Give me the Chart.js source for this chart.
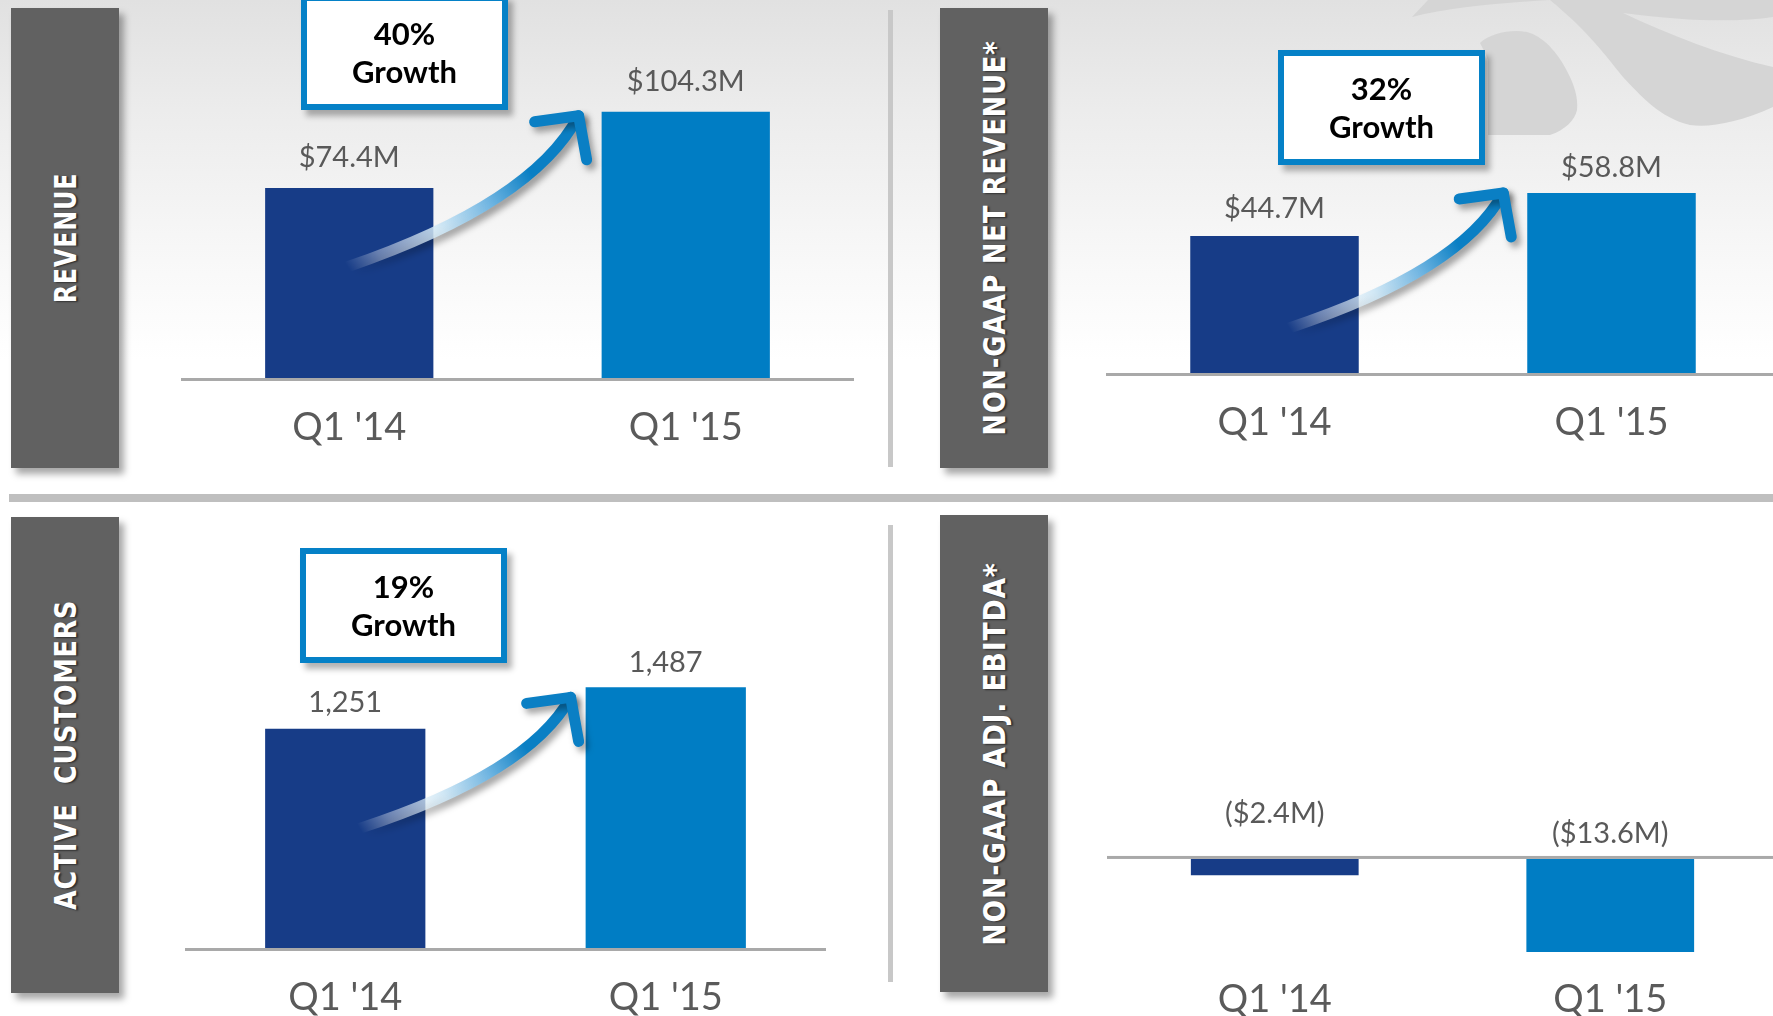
<!DOCTYPE html>
<html>
<head>
<meta charset="utf-8">
<script src="https://cdn.jsdelivr.net/npm/chart.js@4.4.0/dist/chart.umd.min.js"></script>
<style>
html, body { margin: 0; padding: 0; }
body { width: 1773px; height: 1016px; overflow: hidden; position: relative; background: #fff; font-family: Lato, sans-serif; }
#topbg { position: absolute; left: 0; top: 0; width: 1773px; height: 494px;
  background: linear-gradient(#e1e1e1 0px, #ececec 110px, #f8f8f8 260px, #ffffff 360px); }
#mark { position: absolute; left: 0; top: 0; }
.side { position: absolute; background: #616161; box-shadow: 5px 6px 7px rgba(0,0,0,0.35); overflow: hidden; }
.side span { position: absolute; left: 50%; top: 50%; white-space: nowrap; color: #fff;
  font: bold 31px "DejaVu Sans", sans-serif; letter-spacing: 1px;
  text-shadow: -1px 2px 2px rgba(0,0,0,0.55); }
.vdiv { position: absolute; width: 5px; background: #c8c8c8; }
#hdiv { position: absolute; left: 9px; top: 494px; width: 1764px; height: 8px; background: #bfbfbf; }
.growth { position: absolute; box-sizing: border-box; width: 207px; height: 115px; border: 6px solid #0581c7;
  background: #fff; box-shadow: 5px 6px 6px rgba(0,0,0,0.3); text-align: center;
  font: bold 31px Lato, sans-serif; color: #000; line-height: 38px; padding-top: 13px; }
canvas { position: absolute; }
</style>
</head>
<body>
<div id="topbg"></div>
<svg id="mark" width="1773" height="200">
  <g fill="#d5d5d5">
    <path d="M1412,17 L1428,0 L1550,0 C1500,3 1450,7 1412,17 Z"/>
    <path d="M1480,43 C1490,33 1515,28 1530,33 C1545,38 1560,55 1570,77 C1576,90 1578,100 1577,110 C1575,120 1565,130 1550,135 L1488,135 L1488,60 C1485,52 1482,47 1480,43 Z"/>
    <path d="M1545,0 L1773,0 L1773,17 C1740,22 1690,22 1623,13 C1670,35 1720,55 1773,67 L1773,107 C1740,122 1710,128 1690,125 C1660,118 1640,95 1623,77 C1605,55 1590,33 1550,0 Z"/>
  </g>
</svg>

<div class="side" style="left:11px; top:8px; width:108px; height:460px;"><span data-len="131">REVENUE</span></div>
<div class="side" style="left:940px; top:8px; width:108px; height:460px;"><span data-len="395">NON-GAAP NET REVENUE*</span></div>
<div class="side" style="left:11px; top:517px; width:108px; height:476px;"><span data-len="310">ACTIVE&nbsp;&nbsp;CUSTOMERS</span></div>
<div class="side" style="left:940px; top:515px; width:108px; height:477px;"><span data-len="383">NON-GAAP ADJ. EBITDA*</span></div>

<div class="vdiv" style="left:888px; top:10px; height:457px;"></div>
<div class="vdiv" style="left:888px; top:525px; height:457px;"></div>
<div id="hdiv"></div>

<canvas id="revChart" width="673" height="478" style="left:181px; top:0px;"></canvas>
<canvas id="netChart" width="674" height="473" style="left:1106px; top:0px;"></canvas>
<canvas id="custChart" width="641" height="538" style="left:185px; top:510px;"></canvas>
<canvas id="ebitdaChart" width="671" height="538" style="left:1107px; top:510px;"></canvas>

<div class="growth" id="g1" style="left:301px; top:-5px;"></div>
<div class="growth" id="g2" style="left:1278px; top:50px;"></div>
<div class="growth" id="g3" style="left:300px; top:548px;"></div>

<script>
// data
const quarters = ["Q1 '14", "Q1 '15"];
const revenue = [74.4, 104.3];        // $M
const netRevenue = [44.7, 58.8];      // $M, non-GAAP
const customers = [1251, 1487];       // thousands
const ebitda = [-2.4, -13.6];         // $M, non-GAAP adj.

const barColors = ['#173c87', '#007dc4'];

const money = v => '$' + v.toFixed(1) + 'M';
const moneyNeg = v => '($' + Math.abs(v).toFixed(1) + 'M)';
const count = v => v.toLocaleString('en-US');
const growth = arr => Math.round((arr[1] / arr[0] - 1) * 100) + '%';

// side labels: squeeze to the length seen on the slide
document.querySelectorAll('.side span').forEach(s => {
  const k = +s.dataset.len / s.offsetWidth;
  s.style.transform = 'translate(-50%,-50%) rotate(-90deg) scaleX(' + k + ')';
});

document.getElementById('g1').innerHTML = growth(revenue) + '<br>Growth';
document.getElementById('g2').innerHTML = growth(netRevenue) + '<br>Growth';
document.getElementById('g3').innerHTML = growth(customers) + '<br>Growth';

const valueLabels = {
  id: 'valueLabels',
  afterDatasetsDraw(chart, args, opts) {
    const ctx = chart.ctx, area = chart.chartArea;
    const zero = chart.scales.y.getPixelForValue(0);
    const vals = chart.data.datasets[0].data;
    ctx.save();
    ctx.fillStyle = '#a9a9a9';
    const lineTop = vals[0] >= 0 ? zero : zero - 3;
    ctx.fillRect(area.left, lineTop, area.right - area.left, 3);
    ctx.font = '29px Lato, sans-serif';
    ctx.fillStyle = '#595959';
    ctx.textAlign = 'center';
    ctx.textBaseline = 'alphabetic';
    chart.getDatasetMeta(0).data.forEach((bar, i) => {
      const y = vals[i] >= 0 ? bar.y - opts.gap[i] : zero - opts.gap[i];
      ctx.fillText(opts.fmt(vals[i]), bar.x, y);
    });
    ctx.restore();
  }
};

const growthArrow = {
  id: 'growthArrow',
  afterDatasetsDraw(chart, args, opts) {
    if (!opts.tail) return;
    const b2 = chart.getDatasetMeta(0).data[1];
    const tip = { x: b2.x - b2.width / 2 + opts.tipDx, y: b2.y + opts.tipDy };
    const tail = { x: tip.x + opts.tail[0], y: tip.y + opts.tail[1] };
    const cp = { x: tail.x + 0.8 * (tip.x - tail.x), y: tail.y + 0.42 * (tip.y - tail.y) };
    const ctx = chart.ctx;
    ctx.save();
    const g = ctx.createLinearGradient(tail.x, tail.y, tip.x, tip.y);
    g.addColorStop(0, 'rgba(255,255,255,0)');
    g.addColorStop(0.12, 'rgba(255,255,255,0.35)');
    g.addColorStop(0.36, 'rgba(205,230,245,0.9)');
    g.addColorStop(0.56, 'rgba(110,180,225,1)');
    g.addColorStop(0.74, '#0a7fc4');
    g.addColorStop(1, '#0a7fc4');
    ctx.lineWidth = 11;
    ctx.lineCap = 'round';
    ctx.lineJoin = 'round';
    ctx.shadowColor = 'rgba(0,0,0,0.35)';
    ctx.shadowBlur = 6;
    ctx.shadowOffsetX = 4;
    ctx.shadowOffsetY = 5;
    ctx.strokeStyle = g;
    ctx.beginPath();
    ctx.moveTo(tail.x, tail.y);
    ctx.quadraticCurveTo(cp.x, cp.y, tip.x, tip.y);
    ctx.stroke();
    ctx.strokeStyle = '#0a7fc4';
    ctx.beginPath();
    ctx.moveTo(tip.x - 44, tip.y + 6);
    ctx.lineTo(tip.x, tip.y);
    ctx.lineTo(tip.x + 8, tip.y + 44);
    ctx.stroke();
    ctx.restore();
  }
};

function makeChart(id, data, yMin, yMax, tickPad, labelOpts, arrowOpts) {
  return new Chart(document.getElementById(id), {
    type: 'bar',
    data: {
      labels: quarters,
      datasets: [{
        data: data,
        backgroundColor: barColors,
        barPercentage: 0.5,
        categoryPercentage: 1.0
      }]
    },
    options: {
      responsive: false,
      animation: false,
      layout: { padding: 0 },
      plugins: {
        legend: { display: false },
        tooltip: { enabled: false },
        valueLabels: labelOpts,
        growthArrow: arrowOpts || {}
      },
      scales: {
        x: {
          grid: { display: false, drawTicks: false },
          border: { display: false },
          ticks: { color: '#5a5a5a', padding: tickPad, font: { family: 'Lato', size: 38 } }
        },
        y: { display: false, min: yMin, max: yMax }
      }
    },
    plugins: [valueLabels, growthArrow]
  });
}

makeChart('revChart', revenue, 0, 148.1, 27.2,
  { gap: [21, 21], fmt: money },
  { tipDx: -23, tipDy: 4, tail: [-231, 151] });
makeChart('netChart', netRevenue, 0, 121.8, 27.2,
  { gap: [18, 16], fmt: money },
  { tipDx: -24, tipDy: 0, tail: [-214, 135] });
makeChart('custChart', customers, 0, 2499, 27.2,
  { gap: [17, 15], fmt: count },
  { tipDx: -15, tipDy: 10, tail: [-211, 131] });
makeChart('ebitdaChart', ebitda, -13.6, 51.0, 25.2,
  { gap: [36, 16], fmt: moneyNeg });
</script>
</body>
</html>
